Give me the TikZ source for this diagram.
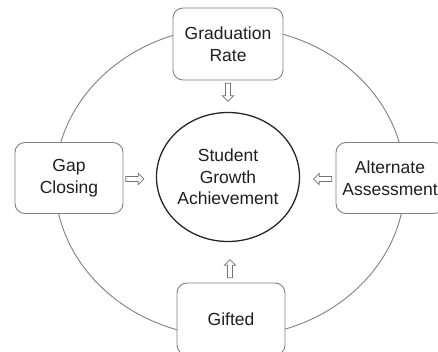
\documentclass[tikz,border=0pt]{standalone}
\usepackage{fontspec}
\setmainfont{Liberation Sans}
\usetikzlibrary{positioning,shapes.arrows,shapes.geometric}

\begin{document}
\begin{tikzpicture}[x=1pt,y=-1pt,
  box/.style={draw=black!50, rounded corners=10pt, line width=0.9pt, fill=white,
    minimum width=108pt, minimum height=71pt, align=center,
    font=\fontsize{17.5}{21.5}\selectfont, text=black!88},
  hub/.style={ellipse, draw=black!85, line width=1.3pt, fill=white,
    minimum width=121pt, minimum height=129pt, inner sep=0pt, align=center,
    font=\fontsize{17.5}{21.5}\selectfont, text=black!88},
  hollowarrow/.style={single arrow, draw=black!55, line width=0.7pt, fill=white,
    inner xsep=0pt, inner ysep=2.2pt, minimum height=18pt,
    single arrow head extend=3pt}]
\useasboundingbox (0,0) rectangle (438,352);
% =============================================
% - outer ring.
\draw [black!50, line width=0.9pt] (230,182) ellipse [x radius=175pt, y radius=155pt];
% - centre.
\node[hub] (growth) at (228,177) {Student\\Growth\\Achievement};
% - measures round the ring.
\node[box, minimum width=110pt, minimum height=72pt] (grad) at (228,44) {Graduation\\Rate};
\node[box] (gap) at (69,178) {Gap\\Closing};
\node[box] (alt) at (390,178) {Alternate\\Assessment};
\node[box, minimum height=72pt] (gift) at (231,319) {Gifted};
%
% - hollow arrows pointing in.
\node[hollowarrow, rotate=-90] (gradarr) at (228,91) {};
\node[hollowarrow] (gaparr) at (133.5,179) {};
\node[hollowarrow, rotate=180] (altarr) at (324,179) {};
\node[hollowarrow, rotate=90] (giftarr) at (230,270) {};
% =============================================
\end{tikzpicture}
\end{document}
